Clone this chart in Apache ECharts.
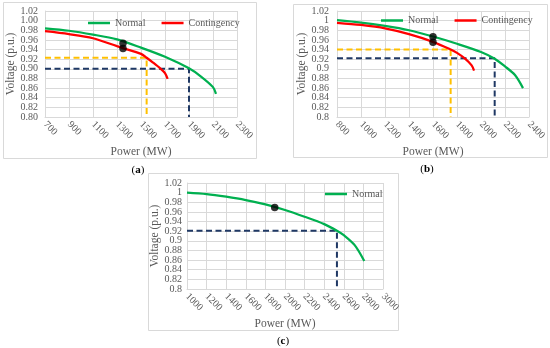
<!DOCTYPE html>
<html>
<head>
<meta charset="utf-8">
<script src="https://cdn.jsdelivr.net/npm/echarts@6/dist/echarts.min.js"></script>
<style>html,body{margin:0;padding:0;background:#fff;}#c{width:550px;height:348px;}</style>
</head>
<body>
<div id="c"></div>
<script>
// ---------- data ----------
const panelLabels = ['a', 'b', 'c'];
const xNameText = 'Power (MW)';
const yNameText = 'Voltage (p.u.)';
const legendNames = ['Normal', 'Contingency'];

// x-axis ranges (tick labels every 200 MW)
const xRangeA = [700, 2300];
const xRangeB = [800, 2400];
const xRangeC = [1000, 3000];
const xStep = 200;
const yRange = [0.8, 1.02];
const yStep = 0.02;

// Panel (a)
const aNormal = [[700,0.984],[900,0.979],[1100,0.971],[1300,0.961],[1500,0.944],[1700,0.925],[1900,0.901],[2000,0.884],[2100,0.862],[2125,0.848]];
const aContingency = [[700,0.978],[900,0.972],[1100,0.9635],[1300,0.947],[1350,0.943],[1500,0.931],[1547,0.923],[1600,0.913],[1664,0.900],[1700,0.891],[1722,0.879]];
const aDots = [[1350,0.953],[1350,0.942]];
const aYellow = [[700,0.923],[1547,0.923],[1547,0.8]];
const aBlue = [[700,0.9],[1900,0.9],[1900,0.8]];

// Panel (b)
const bNormal = [[800,1.001],[1000,0.996],[1200,0.989],[1400,0.980],[1600,0.967],[1800,0.952],[2000,0.935],[2114,0.921],[2200,0.905],[2283,0.887],[2350,0.860]];
const bContingency = [[800,0.9955],[1000,0.991],[1200,0.984],[1400,0.972],[1600,0.956],[1747,0.940],[1800,0.933],[1867,0.921],[1922,0.907],[1942,0.896]];
const bDots = [[1600,0.9665],[1600,0.955]];
const bYellow = [[800,0.94],[1747,0.94],[1747,0.8]];
const bBlue = [[800,0.922],[2114,0.922],[2114,0.8]];

// Panel (c)
const cNormal = [[1000,1.0],[1200,0.997],[1400,0.9915],[1600,0.9846],[1800,0.9756],[2000,0.964],[2200,0.950],[2400,0.9346],[2530,0.921],[2600,0.9117],[2711,0.891],[2809,0.858]];
const cDots = [[1895,0.969]];
const cBlue = [[1000,0.921],[2530,0.921],[2530,0.8]];

// ---------- styles ----------
const FONT = "'Liberation Serif', 'Times New Roman', 'DejaVu Serif', serif";
const GREEN = '#00b050', RED = '#ff0000', YELLOW = '#ffc000', NAVY = '#1f3864';
const GRIDC = '#d9d9d9', TXT = '#595959';

function xAxis(idx, range, gap) {
  return {
    type: 'value', gridIndex: idx, min: range[0], max: range[1], interval: xStep,
    name: xNameText, nameLocation: 'middle', nameGap: gap,
    nameTextStyle: {fontFamily: FONT, fontSize: 11.5, color: TXT},
    axisLine: {show: true, lineStyle: {color: GRIDC}},
    axisTick: {show: false},
    axisLabel: {rotate: -45, interval: 0, margin: 6, fontFamily: FONT, fontSize: 10, color: TXT,
      formatter: v => String(v)},
    splitLine: {show: true, lineStyle: {color: GRIDC, width: 1}}
  };
}
function yFmt(fixed2) {
  return v => fixed2 ? v.toFixed(2) : String(+v.toFixed(2));
}
function yAxis(idx, fixed2, gap, margin) {
  return {
    type: 'value', gridIndex: idx, min: yRange[0], max: yRange[1], interval: yStep,
    name: yNameText, nameLocation: 'middle', nameGap: gap,
    nameTextStyle: {fontFamily: FONT, fontSize: 11.5, color: TXT},
    axisLine: {show: true, lineStyle: {color: GRIDC}},
    axisTick: {show: false},
    axisLabel: {margin: margin, fontFamily: FONT, fontSize: 10, color: TXT,
      showMinLabel: false, showMaxLabel: false, formatter: yFmt(fixed2)},
    splitLine: {show: true, lineStyle: {color: GRIDC, width: 1}}
  };
}
// companion axis that only shows the end labels (min / max) of the same scale
function yEndAxis(idx, fixed2, margin) {
  return {
    type: 'value', gridIndex: idx, min: yRange[0], max: yRange[1], position: 'left',
    axisLine: {show: false}, axisTick: {show: false}, splitLine: {show: false},
    axisLabel: {margin: margin, fontFamily: FONT, fontSize: 10, color: TXT,
      customValues: [yRange[0], yRange[1]], showMinLabel: true, showMaxLabel: true,
      formatter: yFmt(fixed2)}
  };
}
function curve(name, idx, data, color) {
  return {name: name, type: 'line', xAxisIndex: idx, yAxisIndex: idx, data: data,
    smooth: 0.3, showSymbol: false, symbol: 'none',
    lineStyle: {color: color, width: 2.25}, itemStyle: {color: color}, z: 3};
}
function ref(idx, data, color) {
  return {type: 'line', xAxisIndex: idx, yAxisIndex: idx, data: data, symbol: 'none',
    lineStyle: {color: color, width: 2, type: [6, 3.5]}, z: 2, silent: true};
}
function dots(idx, data) {
  return {type: 'scatter', xAxisIndex: idx, yAxisIndex: idx, data: data,
    symbol: 'circle', symbolSize: 7.5, itemStyle: {color: '#000'}, z: 5};
}
function legend(left, top, names) {
  return {data: names, icon: 'rect', left: left, top: top,
    itemWidth: 22, itemHeight: 2.5, itemGap: 16,
    textStyle: {fontFamily: FONT, fontSize: 10, color: TXT}, padding: 0};
}
function box(x, y, w, h) {
  return {type: 'rect', shape: {x: x, y: y, width: w, height: h},
    style: {fill: 'none', stroke: GRIDC, lineWidth: 1}, z: 0};
}
function plabel(cx, cy, letter) {
  return {type: 'text', x: cx, y: cy, z: 10,
    style: {text: '({b|' + letter + '})', fontFamily: FONT, fontSize: 11, fill: '#000',
      align: 'center', verticalAlign: 'middle',
      rich: {b: {fontFamily: FONT, fontSize: 11, fontWeight: 'bold', fill: '#000'}}}};
}

const chart = echarts.init(document.getElementById('c'), null, {renderer: 'canvas'});
chart.setOption({
  animation: false,
  backgroundColor: '#fff',
  grid: [
    {left: 45, top: 11, width: 192, height: 106},
    {left: 337, top: 11, width: 192, height: 106},
    {left: 187, top: 183, width: 196, height: 106}
  ],
  xAxis: [xAxis(0, xRangeA, 29), xAxis(1, xRangeB, 29), xAxis(2, xRangeC, 29)],
  yAxis: [yAxis(0, true, 27, 7), yAxis(1, false, 28, 8), yAxis(2, false, 23, 5),
          yEndAxis(0, true, 7), yEndAxis(1, false, 8), yEndAxis(2, false, 5)],
  legend: [
    legend(88, 18, legendNames),
    legend(381, 15.5, legendNames),
    legend(325, 189, [legendNames[0]])
  ],
  graphic: [
    box(3.5, 2.5, 253, 156),
    box(293.5, 4.5, 254, 153),
    box(148.5, 173.5, 250, 157),
    plabel(138, 170, panelLabels[0]),
    plabel(427, 169, panelLabels[1]),
    plabel(283, 341, panelLabels[2])
  ],
  series: [
    ref(0, aYellow, YELLOW), ref(0, aBlue, NAVY),
    curve(legendNames[0], 0, aNormal, GREEN), curve(legendNames[1], 0, aContingency, RED),
    dots(0, aDots),
    ref(1, bYellow, YELLOW), ref(1, bBlue, NAVY),
    curve(legendNames[0], 1, bNormal, GREEN), curve(legendNames[1], 1, bContingency, RED),
    dots(1, bDots),
    ref(2, cBlue, NAVY),
    curve(legendNames[0], 2, cNormal, GREEN),
    dots(2, cDots)
  ]
});
</script>
</body>
</html>
